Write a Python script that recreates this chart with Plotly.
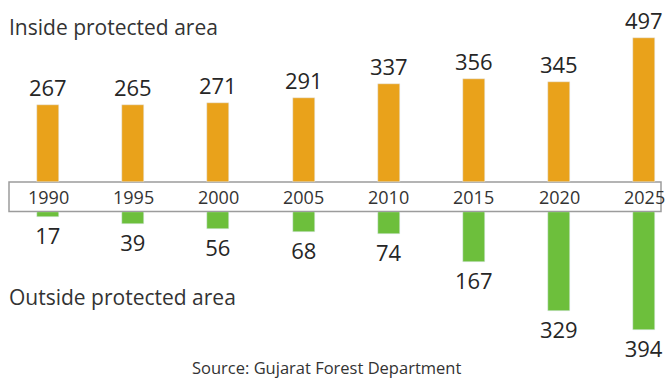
import plotly.graph_objects as go
from plotly.subplots import make_subplots

# Lion counts in Gujarat, by census year
years = ["1990", "1995", "2000", "2005", "2010", "2015", "2020", "2025"]
inside_pa = [267, 265, 271, 291, 337, 356, 345, 497]
outside_pa = [17, 39, 56, 68, 74, 167, 329, 394]

ORANGE = "#E9A21B"
GREEN = "#6DBF3C"
TEXT = "#262626"
FONT = "Open Sans"

W, H = 665, 378

fig = make_subplots(rows=2, cols=1, shared_xaxes=False, vertical_spacing=0)

fig.add_trace(
    go.Bar(
        x=years, y=inside_pa, marker_color=ORANGE, width=0.26,
        text=inside_pa, textposition="outside", cliponaxis=False,
        constraintext="none",
        textfont=dict(family=FONT, size=22, color=TEXT),
        hoverinfo="skip",
    ),
    row=1, col=1,
)
fig.add_trace(
    go.Bar(
        x=years, y=outside_pa, marker_color=GREEN, width=0.26,
        text=outside_pa, textposition="outside", cliponaxis=False,
        constraintext="none",
        textfont=dict(family=FONT, size=22, color=TEXT),
        hoverinfo="skip",
    ),
    row=2, col=1,
)

# Pixel layout helpers
band_top, band_bot = 182, 212
x_lo = -0.5634
x_hi = 7.242

fig.update_xaxes(
    type="category", categoryorder="array", categoryarray=years,
    range=[x_lo, x_hi], showgrid=False, zeroline=False, showline=False,
    ticks="", showticklabels=False, fixedrange=True,
)

# Upper panel: 0.29 px per lion, base at top of the year band
fig.update_yaxes(
    row=1, col=1, domain=[1 - band_top / H, 1], range=[0, band_top / 0.29],
    visible=False,
)
# Lower panel: bars hang down from the bottom of the year band
low_px = H - band_bot
fig.update_yaxes(
    row=2, col=1, domain=[0, 1 - band_bot / H], range=[low_px / 0.30, 0],
    visible=False,
)

# Year band with the census years centred under each pair of bars
fig.add_shape(
    type="rect", xref="paper", yref="paper",
    x0=9 / W, x1=661 / W, y0=1 - 211.5 / H, y1=1 - 182 / H,
    line=dict(color="#9c9c9c", width=1.5), fillcolor="white", layer="below",
)
for i, yr in enumerate(years):
    fig.add_annotation(
        text=yr, x=i, xref="x", yref="paper", y=1 - 196.5 / H,
        xanchor="center", yanchor="middle", showarrow=False,
        font=dict(family=FONT, size=18, color="#333333"),
    )

fig.add_annotation(
    text="Inside protected area", xref="paper", yref="paper",
    x=7 / W, y=1 - 27 / H, xanchor="left", yanchor="middle", showarrow=False,
    font=dict(family=FONT, size=21, color="#333333"),
)
fig.add_annotation(
    text="Outside protected area", xref="paper", yref="paper",
    x=7 / W, y=1 - 297 / H, xanchor="left", yanchor="middle", showarrow=False,
    font=dict(family=FONT, size=21, color="#333333"),
)
fig.add_annotation(
    text="Source: Gujarat Forest Department", xref="paper", yref="paper",
    x=326 / W, y=1 - 367 / H, xanchor="center", yanchor="middle", showarrow=False,
    font=dict(family=FONT, size=16.5, color="#333333"),
)

fig.update_layout(
    width=W, height=H, margin=dict(l=0, r=0, t=0, b=0),
    paper_bgcolor="white", plot_bgcolor="rgba(0,0,0,0)",
    showlegend=False, bargap=0,
)

fig.write_html("out.html")
